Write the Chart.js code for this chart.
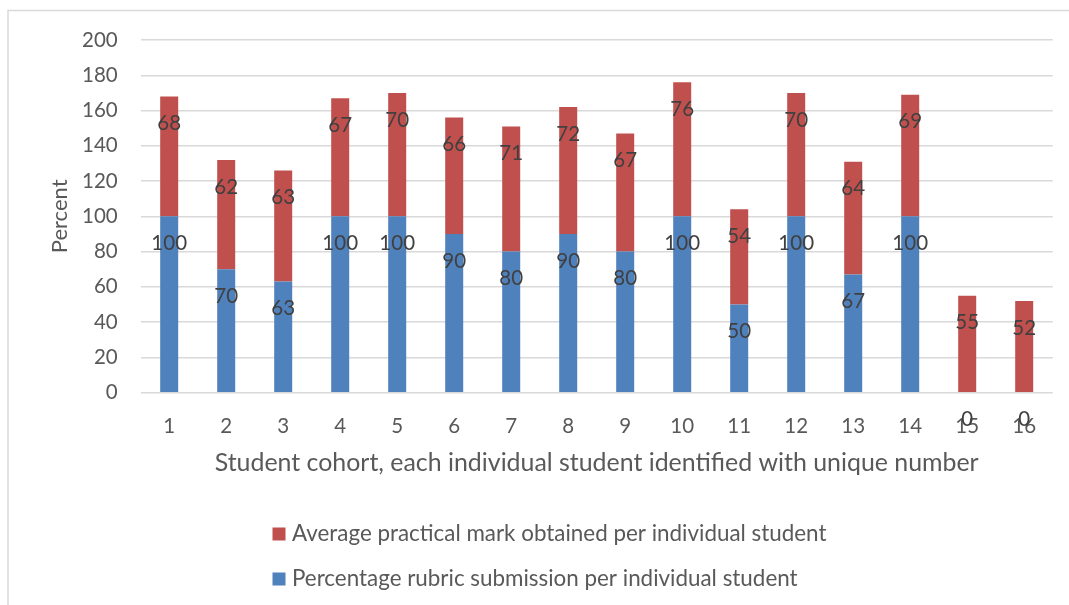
<!DOCTYPE html>
<html>
<head>
<meta charset="utf-8">
<script src="https://cdn.jsdelivr.net/npm/chart.js@4/dist/chart.umd.min.js"></script>
<style>
  html, body { margin: 0; padding: 0; background: #ffffff; }
  #wrap { position: relative; width: 1069px; height: 605px; }
  canvas { display: block; }
</style>
</head>
<body>
<div id="wrap"><canvas id="chart" width="1069" height="605"></canvas></div>
<script>
// Student numbers along the category axis
const students = ['1','2','3','4','5','6','7','8','9','10','11','12','13','14','15','16'];
// Percentage rubric submission per student
const rubricSubmission = [100, 70, 63, 100, 100, 90, 80, 90, 80, 100, 50, 100, 67, 100, 0, 0];
// Average practical mark per student
const practicalMark = [68, 62, 63, 67, 70, 66, 71, 72, 67, 76, 54, 70, 64, 69, 55, 52];
// Value axis ticks
const yTicks = [0, 20, 40, 60, 80, 100, 120, 140, 160, 180, 200];

const FONT = 'Lato, "Liberation Sans", sans-serif';
const BLUE = '#4F81BD';
const RED = '#C0504D';
const GRID = '#d9d9d9';

// Thin frame along the top and left edge of the chart
const framePlugin = {
  id: 'frame',
  beforeDraw(chart) {
    const ctx = chart.ctx;
    ctx.save();
    ctx.strokeStyle = GRID;
    ctx.lineWidth = 1.5;
    ctx.beginPath();
    ctx.moveTo(8, chart.height);
    ctx.lineTo(8, 10.5);
    ctx.lineTo(chart.width, 10.5);
    ctx.stroke();
    ctx.restore();
  }
};

// Value labels near the top end of each bar segment
const valueLabelPlugin = {
  id: 'valueLabels',
  afterDatasetsDraw(chart) {
    const ctx = chart.ctx;
    ctx.save();
    ctx.font = '20.5px ' + FONT;
    ctx.fillStyle = '#404040';
    ctx.textAlign = 'center';
    ctx.textBaseline = 'middle';
    chart.data.datasets.forEach((ds, di) => {
      const meta = chart.getDatasetMeta(di);
      meta.data.forEach((bar, i) => {
        ctx.fillText(String(ds.data[i]), bar.x, bar.y + 27);
      });
    });
    ctx.restore();
  }
};

// Legend stacked in two rows, red series first
const legendPlugin = {
  id: 'stackLegend',
  afterDraw(chart) {
    const ctx = chart.ctx;
    const order = chart.data.datasets.map((d, i) => i).reverse();
    ctx.save();
    ctx.font = '22.4px ' + FONT;
    ctx.textBaseline = 'middle';
    ctx.textAlign = 'left';
    order.forEach((di, row) => {
      const ds = chart.data.datasets[di];
      const cy = 534 + row * 45;
      ctx.fillStyle = ds.backgroundColor;
      ctx.fillRect(272.5, cy - 6.5, 13, 13);
      ctx.fillStyle = '#595959';
      ctx.fillText(ds.label, 292, cy);
    });
    ctx.restore();
  }
};

new Chart(document.getElementById('chart'), {
  type: 'bar',
  data: {
    labels: students,
    datasets: [
      {
        label: 'Percentage rubric submission per individual student',
        data: rubricSubmission,
        backgroundColor: BLUE,
        barPercentage: 0.316,
        categoryPercentage: 1
      },
      {
        label: 'Average practical mark obtained per individual student',
        data: practicalMark,
        backgroundColor: RED,
        barPercentage: 0.316,
        categoryPercentage: 1
      }
    ]
  },
  options: {
    responsive: false,
    devicePixelRatio: 1,
    animation: false,
    layout: { padding: { left: 0, right: 16.3, top: 40, bottom: 125 } },
    plugins: {
      legend: { display: false },
      tooltip: { enabled: false }
    },
    scales: {
      x: {
        stacked: true,
        grid: { display: false, drawTicks: false },
        border: { display: false },
        ticks: {
          color: '#595959',
          font: { family: FONT, size: 20.5 },
          padding: 21,
          maxRotation: 0
        },
        title: {
          display: true,
          text: 'Student cohort, each individual student identified with unique number',
          color: '#595959',
          font: { family: FONT, size: 24.9 },
          padding: { top: 0, bottom: 1.8 }
        },
        afterFit(scale) { scale.height = 87.3; }
      },
      y: {
        stacked: true,
        min: 0,
        max: 200,
        afterBuildTicks(scale) { scale.ticks = yTicks.map(v => ({ value: v })); },
        grid: { color: GRID, lineWidth: 1.5, drawTicks: false },
        border: { display: false },
        ticks: {
          color: '#595959',
          font: { family: FONT, size: 20.5 },
          padding: 23
        },
        title: {
          display: true,
          text: 'Percent',
          color: '#595959',
          font: { family: FONT, size: 22 },
          padding: { top: 46.8, bottom: 0 }
        },
        afterFit(scale) { scale.width = 140.7; }
      }
    }
  },
  plugins: [framePlugin, valueLabelPlugin, legendPlugin]
});
</script>
</body>
</html>
